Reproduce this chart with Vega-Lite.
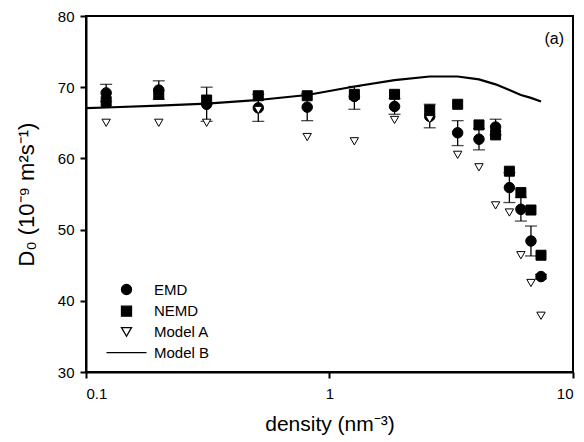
{
  "$schema": "https://vega.github.io/schema/vega-lite/v6.json",
  "width": 487,
  "height": 356,
  "autosize": {"type": "none"},
  "padding": {"left": 86, "top": 16, "right": 11, "bottom": 70},
  "config": {
    "font": "Liberation Sans",
    "view": {"stroke": "black", "strokeWidth": 2},
    "axis": {
      "grid": false, "domainColor": "black", "domainWidth": 2,
      "tickColor": "black", "tickWidth": 2, "tickSize": 6,
      "labelFontSize": 15, "labelColor": "black", "labelFont": "Liberation Sans",
      "titleFontSize": 21, "titleFontWeight": "normal", "titleColor": "black", "titleFont": "Liberation Sans"
    },
    "legend": {
      "labelFontSize": 15, "labelColor": "black", "labelFont": "Liberation Sans",
      "symbolSize": 100, "symbolStrokeWidth": 1.3,
      "padding": 0, "rowPadding": 4.7, "labelOffset": 20
    }
  },
  "title": {"text": "(a)", "anchor": "end", "fontSize": 16, "fontWeight": "normal", "color": "black", "dy": 42, "dx": -10},
  "datasets": {
    "d": [
      {"density": 0.121, "series": "EMD", "value": 69.2, "lo": 68.0, "hi": 70.4},
      {"density": 0.199, "series": "EMD", "value": 69.6, "lo": 68.3, "hi": 70.9},
      {"density": 0.313, "series": "EMD", "value": 67.6, "lo": 65.2, "hi": 70.0},
      {"density": 0.51, "series": "EMD", "value": 67.1, "lo": 65.2, "hi": 69.0},
      {"density": 0.81, "series": "EMD", "value": 67.2, "lo": 65.3, "hi": 69.1},
      {"density": 1.265, "series": "EMD", "value": 68.7, "lo": 66.9, "hi": 70.1},
      {"density": 1.85, "series": "EMD", "value": 67.3, "lo": 66.2, "hi": 68.4},
      {"density": 2.58, "series": "EMD", "value": 65.9, "lo": 64.3, "hi": 67.6},
      {"density": 3.36, "series": "EMD", "value": 63.6, "lo": 61.8, "hi": 65.3},
      {"density": 4.11, "series": "EMD", "value": 62.7, "lo": 61.2, "hi": 64.2},
      {"density": 4.81, "series": "EMD", "value": 64.4, "lo": 63.3, "hi": 65.5},
      {"density": 5.48, "series": "EMD", "value": 55.9, "lo": 53.8, "hi": 58.0},
      {"density": 6.11, "series": "EMD", "value": 52.85, "lo": 51.2, "hi": 54.5},
      {"density": 6.72, "series": "EMD", "value": 48.4, "lo": 46.3, "hi": 50.5},
      {"density": 7.39, "series": "EMD", "value": 43.4, "lo": 43.1, "hi": 43.7},
      {"density": 0.121, "series": "NEMD", "value": 68.0},
      {"density": 0.199, "series": "NEMD", "value": 69.0},
      {"density": 0.313, "series": "NEMD", "value": 68.2},
      {"density": 0.51, "series": "NEMD", "value": 68.8},
      {"density": 0.81, "series": "NEMD", "value": 68.8},
      {"density": 1.265, "series": "NEMD", "value": 69.0},
      {"density": 1.85, "series": "NEMD", "value": 69.0},
      {"density": 2.58, "series": "NEMD", "value": 66.8},
      {"density": 3.36, "series": "NEMD", "value": 67.6},
      {"density": 4.11, "series": "NEMD", "value": 64.7},
      {"density": 4.81, "series": "NEMD", "value": 63.3},
      {"density": 5.48, "series": "NEMD", "value": 58.2},
      {"density": 6.11, "series": "NEMD", "value": 55.2},
      {"density": 6.72, "series": "NEMD", "value": 52.75},
      {"density": 7.39, "series": "NEMD", "value": 46.4},
      {"density": 0.121, "series": "Model A", "value": 65.0},
      {"density": 0.199, "series": "Model A", "value": 65.0},
      {"density": 0.313, "series": "Model A", "value": 65.0},
      {"density": 0.51, "series": "Model A", "value": 66.8},
      {"density": 0.81, "series": "Model A", "value": 63.0},
      {"density": 1.265, "series": "Model A", "value": 62.4},
      {"density": 1.85, "series": "Model A", "value": 65.4},
      {"density": 2.58, "series": "Model A", "value": 65.5},
      {"density": 3.36, "series": "Model A", "value": 60.5},
      {"density": 4.11, "series": "Model A", "value": 58.75},
      {"density": 4.81, "series": "Model A", "value": 53.4},
      {"density": 5.48, "series": "Model A", "value": 52.4},
      {"density": 6.11, "series": "Model A", "value": 46.4},
      {"density": 6.72, "series": "Model A", "value": 42.5},
      {"density": 7.39, "series": "Model A", "value": 37.9},
      {"density": 0.1, "series": "Model B", "value": 67.05},
      {"density": 0.121, "series": "Model B", "value": 67.15},
      {"density": 0.199, "series": "Model B", "value": 67.4},
      {"density": 0.313, "series": "Model B", "value": 67.7},
      {"density": 0.51, "series": "Model B", "value": 68.2},
      {"density": 0.81, "series": "Model B", "value": 68.9},
      {"density": 1.265, "series": "Model B", "value": 70.1},
      {"density": 1.85, "series": "Model B", "value": 71.0},
      {"density": 2.58, "series": "Model B", "value": 71.5},
      {"density": 3.36, "series": "Model B", "value": 71.5},
      {"density": 4.11, "series": "Model B", "value": 71.1},
      {"density": 4.81, "series": "Model B", "value": 70.4},
      {"density": 5.48, "series": "Model B", "value": 69.6},
      {"density": 6.11, "series": "Model B", "value": 68.9},
      {"density": 6.72, "series": "Model B", "value": 68.5},
      {"density": 7.39, "series": "Model B", "value": 68.0}
    ]
  },
  "data": {"name": "d"},
  "encoding": {
    "x": {
      "field": "density", "type": "quantitative",
      "scale": {"type": "log", "domain": [0.1, 10]},
      "axis": {"values": [0.1, 1, 10], "format": "~g", "title": "density (nm⁻³)", "labelPadding": 8, "titlePadding": 12}
    },
    "y": {
      "field": "value", "type": "quantitative",
      "scale": {"domain": [30, 80]},
      "axis": {"values": [30, 40, 50, 60, 70, 80], "title": "D₀ (10⁻⁹ m²s⁻¹)", "labelPadding": 6, "titlePadding": 19, "titleFontSize": 22}
    }
  },
  "layer": [
    {
      "transform": [{"filter": "datum.series === 'EMD'"}],
      "mark": {"type": "errorbar", "ticks": {"size": 12}, "thickness": 1.3, "color": "black"},
      "encoding": {
        "y": {"field": "lo", "type": "quantitative"},
        "y2": {"field": "hi"}
      }
    },
    {
      "transform": [{"filter": "datum.series === 'Model B'"}],
      "mark": {"type": "line", "color": "black", "strokeWidth": 2.2}
    },
    {
      "transform": [{"filter": "datum.series === 'EMD'"}],
      "mark": {"type": "point", "strokeWidth": 1, "opacity": 1, "size": 110},
      "encoding": {
        "shape": {"field": "series", "type": "nominal", "scale": {"domain": ["EMD", "NEMD", "Model A", "Model B"], "range": ["circle", "square", "triangle-down", "M-4,0H4"]}, "legend": {"title": null, "orient": "none", "legendX": 33, "legendY": 266}},
        "fill": {"field": "series", "type": "nominal", "scale": {"domain": ["EMD", "NEMD", "Model A", "Model B"], "range": ["black", "black", "white", "black"]}, "legend": {"title": null, "orient": "none", "legendX": 33, "legendY": 266}},
        "stroke": {"field": "series", "type": "nominal", "scale": {"domain": ["EMD", "NEMD", "Model A", "Model B"], "range": ["black", "black", "black", "black"]}, "legend": {"title": null, "orient": "none", "legendX": 33, "legendY": 266}}
      }
    },
    {
      "transform": [{"filter": "datum.series === 'NEMD'"}],
      "mark": {"type": "point", "strokeWidth": 1, "opacity": 1, "size": 100},
      "encoding": {
        "shape": {"field": "series", "type": "nominal"},
        "fill": {"field": "series", "type": "nominal"},
        "stroke": {"field": "series", "type": "nominal"}
      }
    },
    {
      "transform": [{"filter": "datum.series === 'Model A'"}],
      "mark": {"type": "point", "strokeWidth": 1, "opacity": 1, "size": 70},
      "encoding": {
        "shape": {"field": "series", "type": "nominal"},
        "fill": {"field": "series", "type": "nominal"},
        "stroke": {"field": "series", "type": "nominal"}
      }
    }
  ]
}
